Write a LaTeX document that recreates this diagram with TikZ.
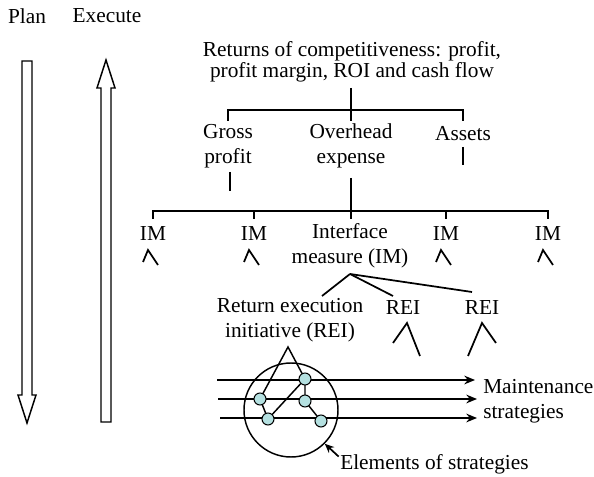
\documentclass[tikz,border=0pt]{standalone}
\usepackage{fontspec}
\setmainfont{Liberation Serif}
\usetikzlibrary{arrows.meta}
\definecolor{nodecyan}{RGB}{180,224,224}
\begin{document}
\begin{tikzpicture}[x=0.75pt,y=-0.75pt,
  lbl/.style={inner sep=0pt, align=center, font=\fontsize{16}{18.75}\selectfont},
  branch/.style={line width=1.5pt},
  caret/.style={line width=1.3pt},
  link/.style={line width=1.1pt},
  bigarrow/.style={draw, line width=1.1pt, fill=white},
  track/.style={line width=1.5pt, -{Stealth[length=8pt,width=6.5pt]}},
  elem/.style={circle, draw, line width=0.8pt, fill=nodecyan, minimum size=9pt, inner sep=0pt},
  ]
\useasboundingbox (0,0) rectangle (594,477);

% column headings and the two direction arrows
\node[lbl] (plan) at (27,16) {Plan};
\node[lbl] (exec) at (107,16) {Execute};
\draw[bigarrow] (22,61) -- (32,61) -- (32,395) -- (36,395) -- (27,423) -- (18,395) -- (22,395) -- cycle;
\draw[bigarrow] (101,422) -- (111,422) -- (111,88) -- (115,88) -- (106,60) -- (97,88) -- (101,88) -- cycle;

% top of the tree
\node[lbl] (ret) at (352,62) {Returns of competitiveness: profit,\\[-3pt]profit margin, ROI and cash flow};
\node[lbl] (gp) at (228,146) {Gross\\profit};
\node[lbl] (oh) at (351,146) {Overhead\\expense};
\node[lbl] (as) at (463,134) {Assets};

\coordinate (t0) at (351,88);
\coordinate (gpT) at (228,121);
\coordinate (ohT) at (351,121);
\coordinate (asT) at (463,121);
\draw[branch] (t0) -- (ohT);
\draw[branch] (gpT) -- (228,110) -- (463,110) -- (asT);
\draw[branch] (230,172) -- (230,191);
\draw[branch] (463,147) -- (463,165);

% interface measures
\node[lbl] (im1) at (153,234) {IM};
\node[lbl] (im2) at (254,234) {IM};
\node[lbl] (imc) at (350,246) {Interface\\measure (IM)};
\node[lbl] (im4) at (446,234) {IM};
\node[lbl] (im5) at (548,234) {IM};

\coordinate (ohB) at (351,178);
\coordinate (imcT) at (351,219);
\draw[branch] (ohB) -- (imcT);
\draw[branch] (153,219) -- (153,211) -- (548,211) -- (548,219);
\draw[branch] (254,211) -- (254,219);
\draw[branch] (446,211) -- (446,219);

\foreach \n/\x in {im1/153, im2/254, im4/446, im5/548}
  \draw[caret] (\x-10,262) -- (\x-5,250) -- (\x+5,265);

% return execution initiatives
\node[lbl] (rei0) at (290,320) {Return execution\\initiative (REI)};
\node[lbl] (rei1) at (403,308) {REI};
\node[lbl] (rei2) at (482,308) {REI};

\coordinate (fan) at (350,274);
\draw[caret] (fan) -- (322,296);
\draw[caret] (fan) -- (393,296);
\draw[caret] (fan) -- (472,292);

\draw[caret] (393,343) -- (407,323) -- (420,356);
\draw[caret] (468,356) -- (482,323) -- (496,343);

% strategy tracks
\coordinate (s1) at (217,380); \coordinate (e1) at (475,380);
\coordinate (s2) at (218,399); \coordinate (e2) at (477,399);
\coordinate (s3) at (220,418); \coordinate (e3) at (477,418);
\draw[track] (s1) -- (e1);
\draw[track] (s2) -- (e2);
\draw[track] (s3) -- (e3);

\node[lbl, align=left, anchor=west] (maint) at (483,401) {Maintenance\\strategies};

% elements of strategies: ring, links and the element dots
\node[circle, draw, line width=1.1pt, minimum size=70.5pt, inner sep=0pt] (ring) at (291,410) {};

\coordinate (apex) at (288,347);
\coordinate (A) at (305,379);
\coordinate (B) at (260,399);
\coordinate (C) at (305,401);
\coordinate (D) at (268,419);
\coordinate (E) at (321,421);
\draw[link] (B) -- (apex) -- (A);
\draw[link] (B) -- (D) -- (A) -- (C) -- (E);
\foreach \n in {A,B,C,D,E}
  \node[elem] (dot\n) at (\n) {};

\node[lbl, anchor=west] (elm) at (340,464) {Elements of strategies};
\draw[line width=1.3pt, -{Stealth[length=7pt,width=6pt]}] ([xshift=-1pt,yshift=-2pt]elm.north west) -- (ring.-45);
\end{tikzpicture}
\end{document}
